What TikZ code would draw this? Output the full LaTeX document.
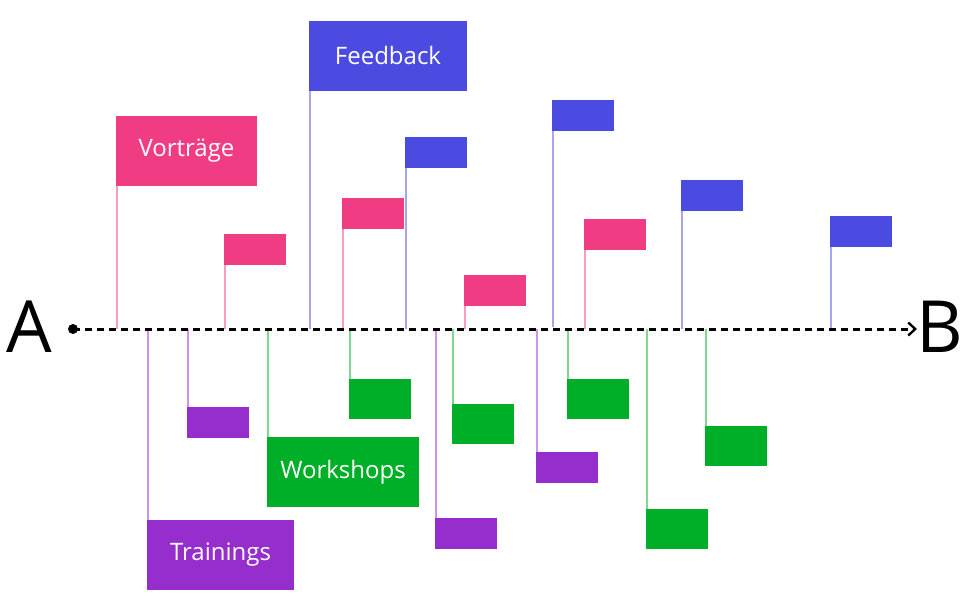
\documentclass[tikz,border=0pt]{standalone}
\usepackage{fontspec}
\setmainfont{Open Sans}
\usetikzlibrary{arrows.meta}
\definecolor{cpink}{HTML}{F03C82}
\definecolor{cblue}{HTML}{4B4BE1}
\definecolor{cpurple}{HTML}{962DCD}
\definecolor{cgreen}{HTML}{00AF28}
\tikzset{
  flag/.style={anchor=north west, inner sep=0pt, outer sep=0pt, text=white,
    font=\fontsize{24}{27}\selectfont, minimum width=62pt, minimum height=31pt},
  pinkflag/.style={flag, fill=cpink},
  blueflag/.style={flag, fill=cblue},
  purpleflag/.style={flag, fill=cpurple},
  greenflag/.style={flag, fill=cgreen, minimum height=40pt},
  pole/.style={line width=1.8pt},
  pinkpole/.style={pole, draw=cpink!50},
  bluepole/.style={pole, draw=cblue!50},
  purplepole/.style={pole, draw=cpurple!50},
  greenpole/.style={pole, draw=cgreen!50},
  axisline/.style={line width=3pt, dash pattern=on 6.5pt off 5.5pt, -{Straight Barb[length=7pt,width=13pt,line width=2.4pt]}},
  endlabel/.style={font=\fontsize{72}{78}\selectfont, inner sep=0pt}
}
\begin{document}
\begin{tikzpicture}[x=1pt,y=-1pt]
\useasboundingbox (0,0) rectangle (963,610);
% poles
\coordinate (cvor) at (117,329);
\coordinate (cp1) at (225,329);
\coordinate (cfb) at (310,329);
\coordinate (cp2) at (343,329);
\coordinate (cb1) at (406,329);
\coordinate (cp3) at (465,329);
\coordinate (cb2) at (553,327);
\coordinate (cp4) at (585,329);
\coordinate (cb3) at (682,329);
\coordinate (cb4) at (831,329);
\coordinate (ctr) at (148,329);
\coordinate (cu1) at (188,329);
\coordinate (cws) at (268,329);
\coordinate (cg1) at (350,329);
\coordinate (cu2) at (436,329);
\coordinate (cg2) at (453,329);
\coordinate (cu3) at (537,329);
\coordinate (cg3) at (568,329);
\coordinate (cg4) at (647,329);
\coordinate (cg5) at (706,329);
% flags above
\node[pinkflag, minimum width=141pt, minimum height=70pt] (vor) at (116,116) {Vorträge};
\node[pinkflag] (p1) at (224,234) {};
\node[blueflag, minimum width=158pt, minimum height=70pt] (fb) at (309,21) {Feedback};
\node[pinkflag] (p2) at (342,198) {};
\node[blueflag] (b1) at (405,137) {};
\node[pinkflag] (p3) at (464,275) {};
\node[blueflag] (b2) at (552,100) {};
\node[pinkflag] (p4) at (584,219) {};
\node[blueflag] (b3) at (681,180) {};
\node[blueflag] (b4) at (830,216) {};
% flags below
\node[purpleflag, minimum width=147pt, minimum height=70pt] (tr) at (147,520) {Trainings};
\node[purpleflag] (u1) at (187,407) {};
\node[greenflag, minimum width=152pt, minimum height=70pt] (ws) at (267,437) {Workshops};
\node[greenflag] (g1) at (349,379) {};
\node[purpleflag] (u2) at (435,518) {};
\node[greenflag] (g2) at (452,404) {};
\node[purpleflag] (u3) at (536,452) {};
\node[greenflag] (g3) at (567,379) {};
\node[greenflag] (g4) at (646,509) {};
\node[greenflag] (g5) at (705,426) {};
% poles
\draw[pinkpole] (cvor) -- (cvor |- vor.south);
\draw[pinkpole] (cp1) -- (cp1 |- p1.south);
\draw[bluepole] (cfb) -- (cfb |- fb.south);
\draw[pinkpole] (cp2) -- (cp2 |- p2.south);
\draw[bluepole] (cb1) -- (cb1 |- b1.south);
\draw[pinkpole] (cp3) -- (cp3 |- p3.south);
\draw[bluepole] (cb2) -- (cb2 |- b2.south);
\draw[pinkpole] (cp4) -- (cp4 |- p4.south);
\draw[bluepole] (cb3) -- (cb3 |- b3.south);
\draw[bluepole] (cb4) -- (cb4 |- b4.south);
\draw[purplepole] (ctr) -- (ctr |- tr.north);
\draw[purplepole] (cu1) -- (cu1 |- u1.north);
\draw[greenpole] (cws) -- (cws |- ws.north);
\draw[greenpole] (cg1) -- (cg1 |- g1.north);
\draw[purplepole] (cu2) -- (cu2 |- u2.north);
\draw[greenpole] (cg2) -- (cg2 |- g2.north);
\draw[purplepole] (cu3) -- (cu3 |- u3.north);
\draw[greenpole] (cg3) -- (cg3 |- g3.north);
\draw[greenpole] (cg4) -- (cg4 |- g4.north);
\draw[greenpole] (cg5) -- (cg5 |- g5.north);
% axis
\node[endlabel] (A) at (29,327) {A};
\node[endlabel] (B) at (940,327) {B};
\coordinate (start) at (73,329);
\coordinate (stop) at (917,329);
\fill (start) circle (5pt);
\draw[axisline] (start) -- (stop);
\end{tikzpicture}
\end{document}
